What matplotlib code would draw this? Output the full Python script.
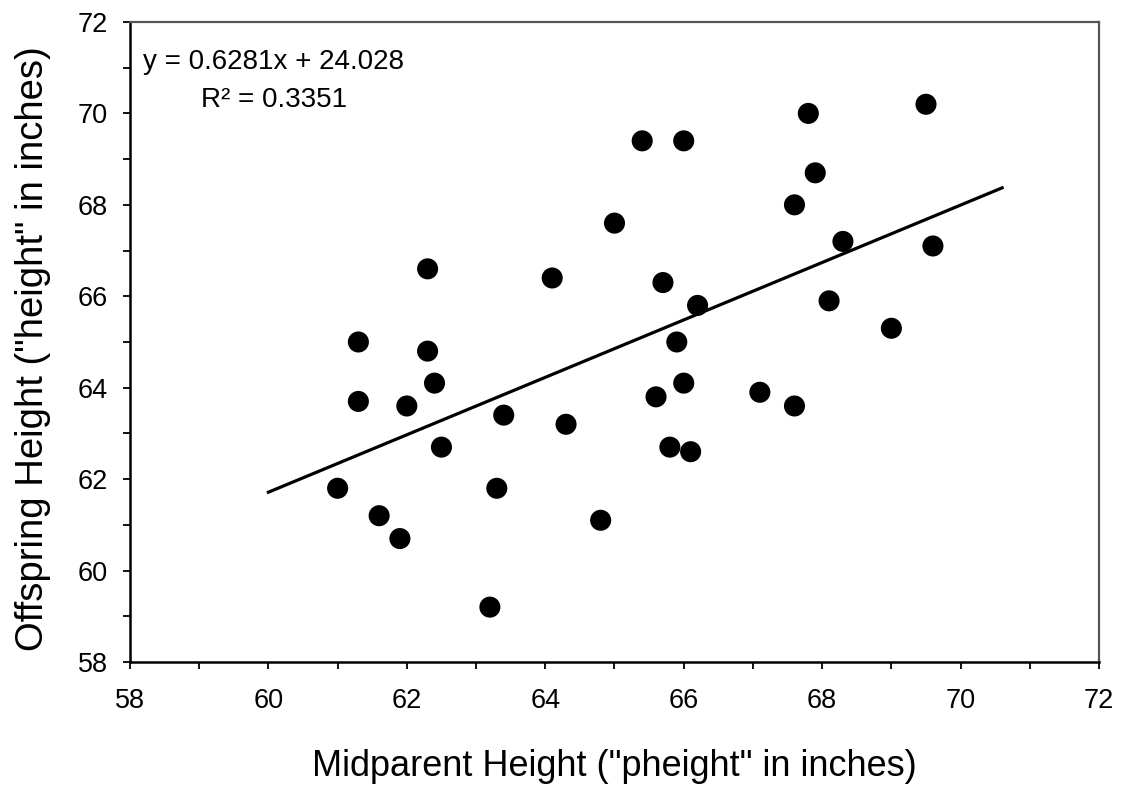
import numpy as np
import matplotlib
matplotlib.use("Agg")
import matplotlib.pyplot as plt
from matplotlib.ticker import MultipleLocator

plt.rcParams['font.family'] = ['Liberation Sans', 'DejaVu Sans']

# ===== data =====
midparent = [61.0, 61.3, 61.3, 61.6, 61.9, 62.0, 62.3, 62.3, 62.4, 62.5,
             63.2, 63.3, 63.4, 64.1, 64.3, 64.8, 65.0, 65.4, 65.6, 65.7,
             65.8, 65.9, 66.0, 66.0, 66.1, 66.2, 67.1, 67.6, 67.6, 67.8,
             67.9, 68.1, 68.3, 69.0, 69.5, 69.6]
offspring = [61.8, 65.0, 63.7, 61.2, 60.7, 63.6, 66.6, 64.8, 64.1, 62.7,
             59.2, 61.8, 63.4, 66.4, 63.2, 61.1, 67.6, 69.4, 63.8, 66.3,
             62.7, 65.0, 69.4, 64.1, 62.6, 65.8, 63.9, 68.0, 63.6, 70.0,
             68.7, 65.9, 67.2, 65.3, 70.2, 67.1]

slope = 0.6281
intercept = 24.028
r_squared = 0.3351
fit_x = [60.0, 70.6]

xticks = [58, 60, 62, 64, 66, 68, 70, 72]
yticks = [58, 60, 62, 64, 66, 68, 70, 72]

# ===== figure =====
fig = plt.figure(figsize=(11.27, 7.85), dpi=100)
ax = fig.add_axes([0.1153, 0.1567, 0.8599, 0.8153])

ax.scatter(midparent, offspring, s=230, color="black", edgecolors="none", zorder=3)

fx = np.array(fit_x)
ax.plot(fx, slope * fx + intercept, color="black", linewidth=2.3, zorder=2)

ax.set_xlim(58, 72)
ax.set_ylim(58, 72)
ax.set_xticks(xticks)
ax.set_yticks(yticks)
ax.xaxis.set_minor_locator(MultipleLocator(1))
ax.yaxis.set_minor_locator(MultipleLocator(1))
ax.tick_params(which="both", direction="out", length=5, width=1.3,
               top=False, right=False)
ax.tick_params(axis="x", which="major", labelsize=19.5, pad=14)
ax.tick_params(axis="y", which="major", labelsize=19.5, pad=11)

for side in ("left", "bottom"):
    ax.spines[side].set_linewidth(1.8)
    ax.spines[side].set_color("black")
for side in ("top", "right"):
    ax.spines[side].set_linewidth(1.6)
    ax.spines[side].set_color("#555555")

ax.set_xlabel('Midparent Height ("pheight" in inches)', fontsize=26, va="center")
ax.xaxis.set_label_coords(0.5, -0.164)
ax.set_ylabel('Offspring Height ("height" in inches)', fontsize=27.5, va="center")
ax.yaxis.set_label_coords(-0.100, 0.49)

ax.text(0.1486, 0.958,
        f"y = {slope}x + {intercept}\nR\u00b2 = {r_squared}",
        transform=ax.transAxes, ha="center", va="top",
        multialignment="center", fontsize=20, linespacing=1.6)

fig.savefig("out.png", dpi=100)
